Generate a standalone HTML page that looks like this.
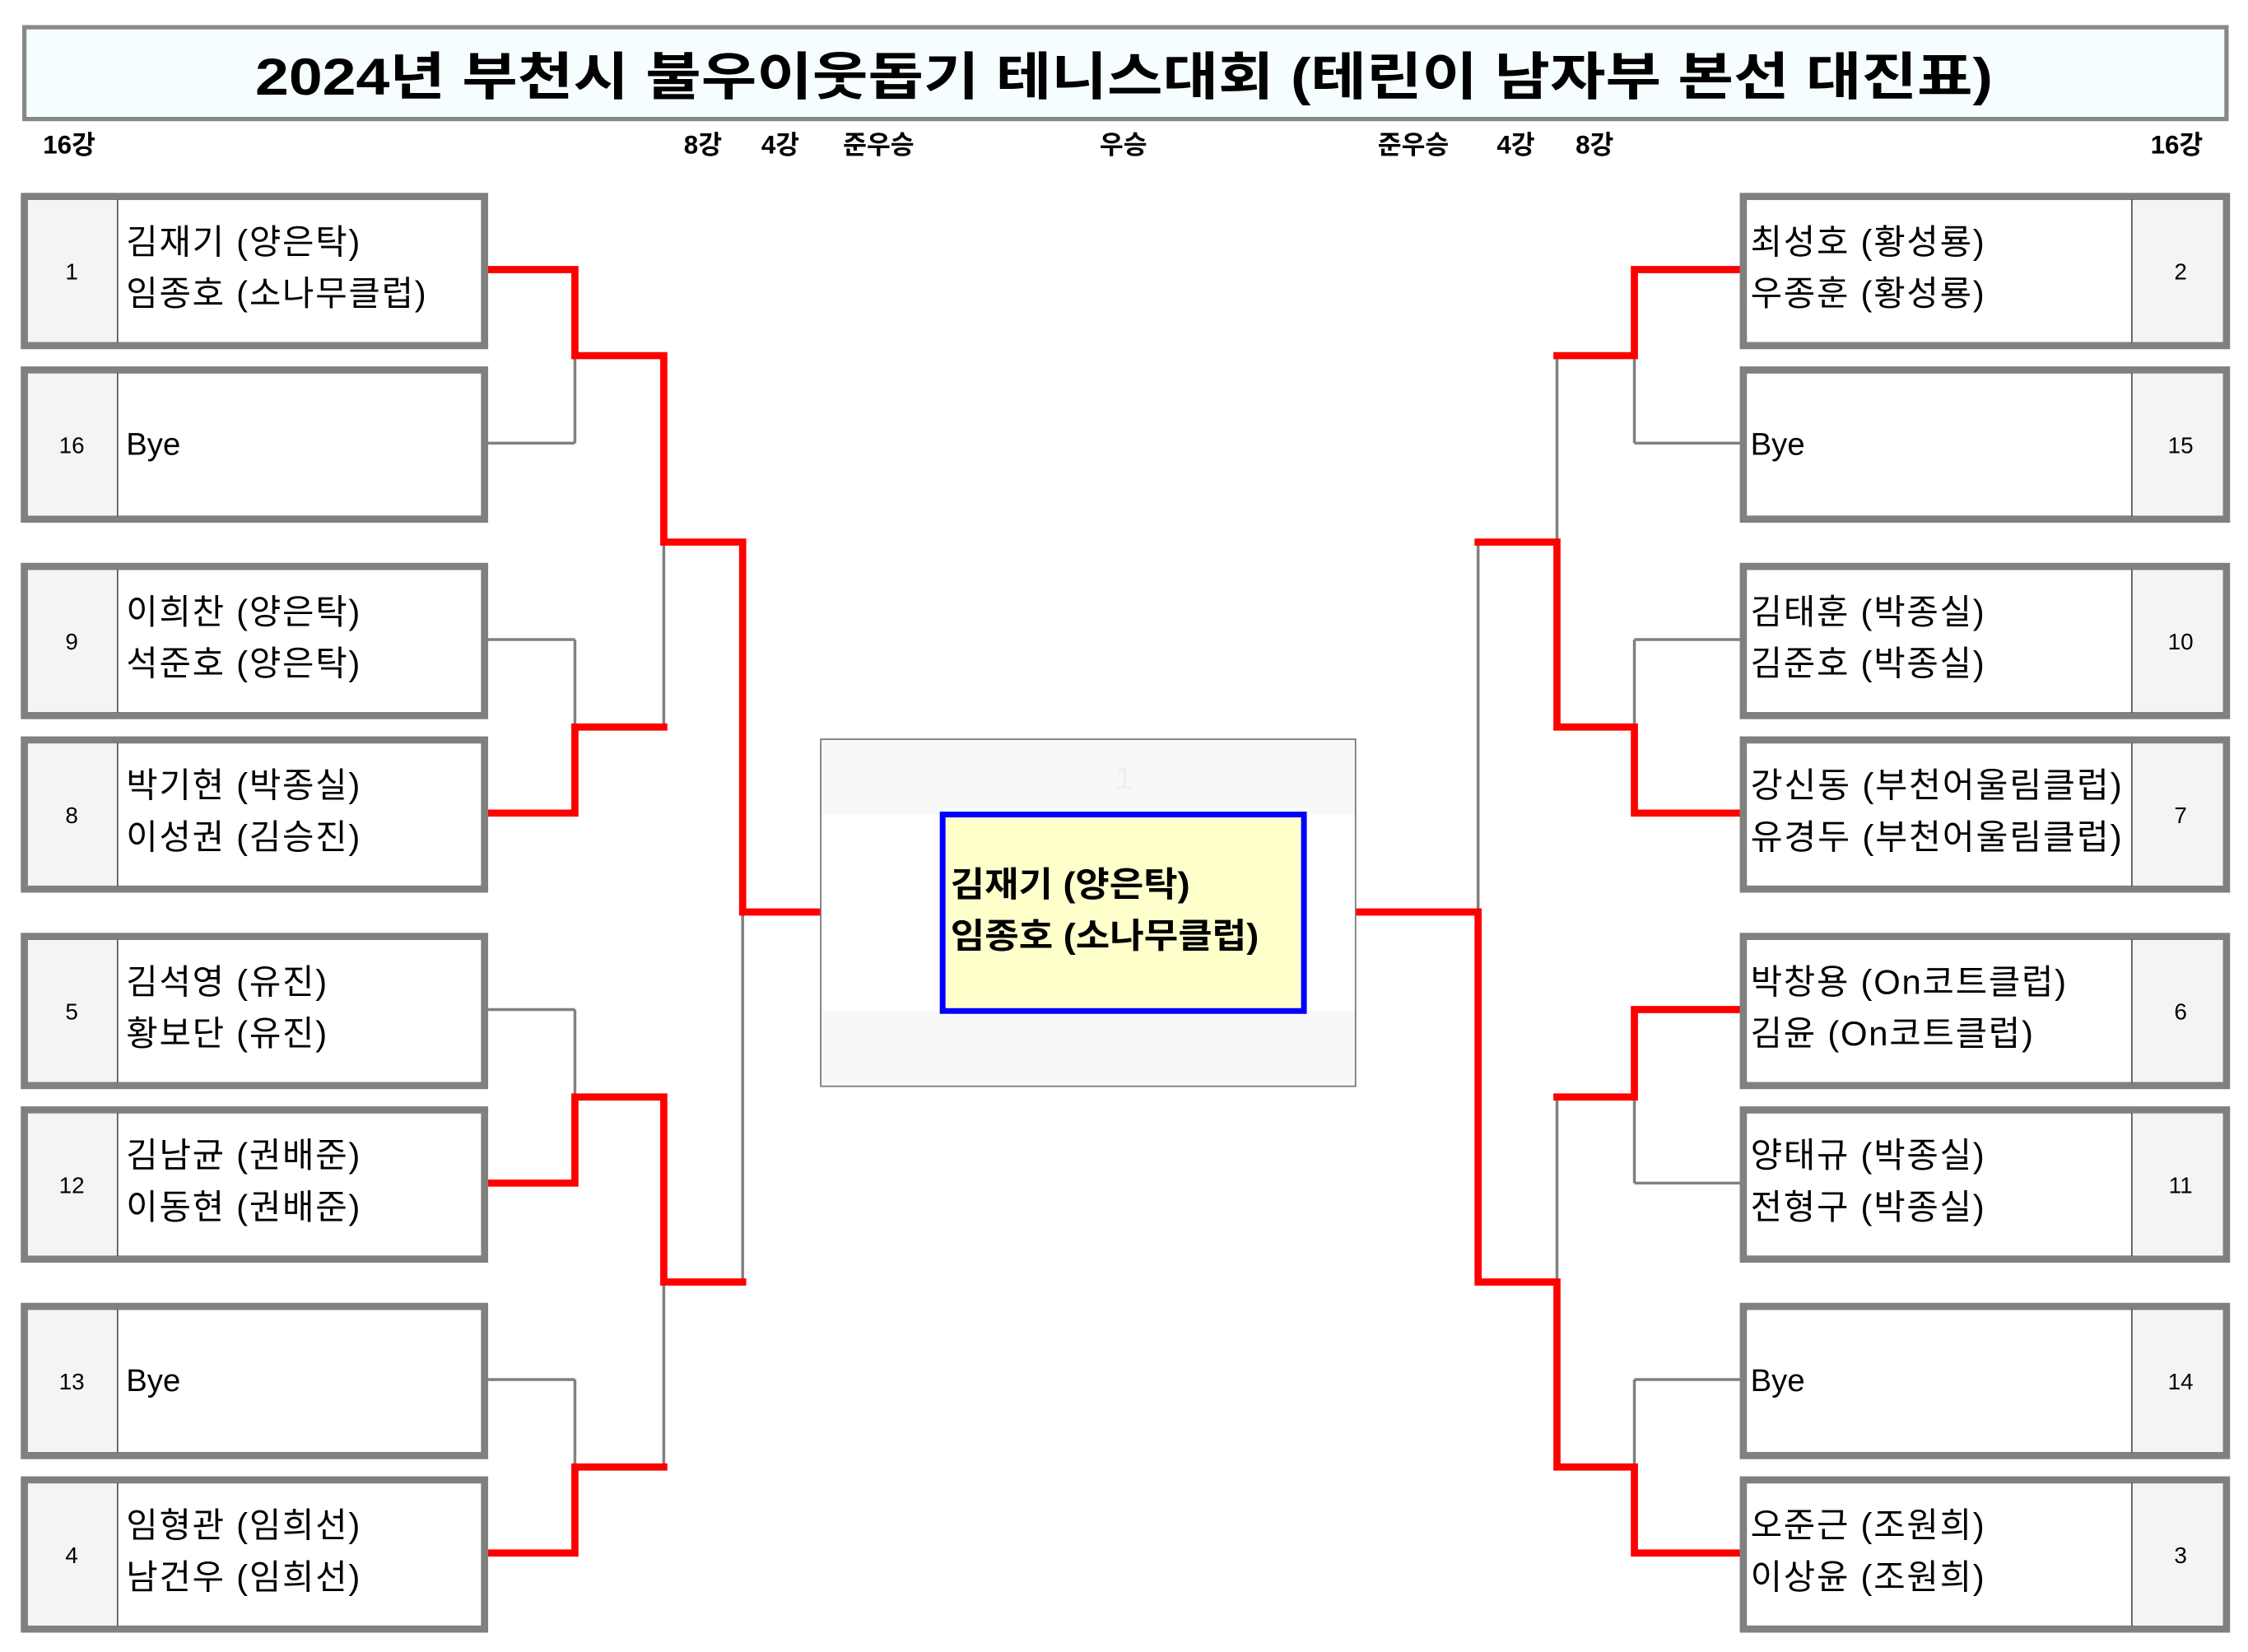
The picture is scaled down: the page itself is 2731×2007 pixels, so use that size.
<!DOCTYPE html>
<html><head><meta charset="utf-8"><style>
html,body{margin:0;padding:0;background:#fff;}
svg{display:block;}
text{font-family:"Liberation Sans","Noto Sans CJK KR",sans-serif;}
.n{font-size:24px;letter-spacing:1px;}
</style></head><body>
<svg width="2731" height="2007" viewBox="0 0 1568 1152" preserveAspectRatio="none" xmlns="http://www.w3.org/2000/svg">
<rect x="0" y="0" width="1568" height="1152" fill="#fff"/>
<rect x="17" y="19" width="1536" height="64" fill="#f5fdff" stroke="#888" stroke-width="3"/>
<text x="178" y="66" font-size="36" font-weight="bold" fill="#000" textLength="1212" lengthAdjust="spacingAndGlyphs">2024년 부천시 불우이웃돕기 테니스대회 (테린이 남자부 본선 대진표)</text>
<g font-size="18" font-weight="bold" fill="#000">
<text x="30" y="107">16강</text>
<text x="477" y="107">8강</text>
<text x="531" y="107">4강</text>
<text x="588" y="107">준우승</text>
<text x="767" y="107">우승</text>
<text x="961" y="107">준우승</text>
<text x="1044" y="107">4강</text>
<text x="1099" y="107">8강</text>
<text x="1500" y="107">16강</text>
</g>

<g stroke="#808080" stroke-width="2" fill="none">
<line x1="340" y1="309" x2="401" y2="309"/>
<line x1="340" y1="446" x2="401" y2="446"/>
<line x1="340" y1="704" x2="401" y2="704"/>
<line x1="340" y1="962" x2="401" y2="962"/>
<line x1="401" y1="188" x2="401" y2="309"/>
<line x1="401" y1="446" x2="401" y2="567"/>
<line x1="401" y1="704" x2="401" y2="825"/>
<line x1="401" y1="962" x2="401" y2="1083"/>
<line x1="463" y1="248" x2="463" y2="507"/>
<line x1="463" y1="765" x2="463" y2="1023"/>
<line x1="518" y1="378" x2="518" y2="894"/>
<line x1="1214" y1="309" x2="1140" y2="309"/>
<line x1="1214" y1="446" x2="1140" y2="446"/>
<line x1="1214" y1="825" x2="1140" y2="825"/>
<line x1="1214" y1="962" x2="1140" y2="962"/>
<line x1="1140" y1="188" x2="1140" y2="309"/>
<line x1="1140" y1="446" x2="1140" y2="567"/>
<line x1="1140" y1="704" x2="1140" y2="825"/>
<line x1="1140" y1="962" x2="1140" y2="1083"/>
<line x1="1086" y1="248" x2="1086" y2="507"/>
<line x1="1086" y1="765" x2="1086" y2="1023"/>
<line x1="1031" y1="378" x2="1031" y2="894"/>
</g>
<g stroke="#ff0000" stroke-width="5" fill="none" stroke-linejoin="miter" stroke-linecap="square">
<polyline points="340,188 401,188 401,248 463,248 463,378 518,378 518,636 572,636"/>
<polyline points="340,567 401,567 401,507 463,507"/>
<polyline points="340,825 401,825 401,765 463,765 463,894 518,894"/>
<polyline points="340,1083 401,1083 401,1023 463,1023"/>
<polyline points="1214,188 1140,188 1140,248 1086,248"/>
<polyline points="1214,567 1140,567 1140,507 1086,507 1086,378 1031,378"/>
<polyline points="1214,704 1140,704 1140,765 1086,765"/>
<polyline points="1214,1083 1140,1083 1140,1023 1086,1023 1086,894 1031,894 1031,636 946,636"/>
</g>

<g font-size="22" fill="#000">
<g transform="translate(0,135)">
<rect x="17" y="2" width="321" height="104" fill="#fff" stroke="#808080" stroke-width="5"/>
<rect x="19.5" y="4.5" width="62.5" height="99" fill="#f4f4f4"/><line x1="82" y1="4" x2="82" y2="104" stroke="#555" stroke-width="1"/>
<text x="50" y="60" font-size="16" text-anchor="middle">1</text>
<text class="n" x="88" y="42">김재기 (양은탁)</text><text class="n" x="88" y="78">임종호 (소나무클럽)</text></g>
<g transform="translate(0,256)">
<rect x="17" y="2" width="321" height="104" fill="#fff" stroke="#808080" stroke-width="5"/>
<rect x="19.5" y="4.5" width="62.5" height="99" fill="#f4f4f4"/><line x1="82" y1="4" x2="82" y2="104" stroke="#555" stroke-width="1"/>
<text x="50" y="60" font-size="16" text-anchor="middle">16</text>
<text x="88" y="61">Bye</text></g>
<g transform="translate(0,393)">
<rect x="17" y="2" width="321" height="104" fill="#fff" stroke="#808080" stroke-width="5"/>
<rect x="19.5" y="4.5" width="62.5" height="99" fill="#f4f4f4"/><line x1="82" y1="4" x2="82" y2="104" stroke="#555" stroke-width="1"/>
<text x="50" y="60" font-size="16" text-anchor="middle">9</text>
<text class="n" x="88" y="42">이희찬 (양은탁)</text><text class="n" x="88" y="78">석준호 (양은탁)</text></g>
<g transform="translate(0,514)">
<rect x="17" y="2" width="321" height="104" fill="#fff" stroke="#808080" stroke-width="5"/>
<rect x="19.5" y="4.5" width="62.5" height="99" fill="#f4f4f4"/><line x1="82" y1="4" x2="82" y2="104" stroke="#555" stroke-width="1"/>
<text x="50" y="60" font-size="16" text-anchor="middle">8</text>
<text class="n" x="88" y="42">박기현 (박종실)</text><text class="n" x="88" y="78">이성권 (김승진)</text></g>
<g transform="translate(0,651)">
<rect x="17" y="2" width="321" height="104" fill="#fff" stroke="#808080" stroke-width="5"/>
<rect x="19.5" y="4.5" width="62.5" height="99" fill="#f4f4f4"/><line x1="82" y1="4" x2="82" y2="104" stroke="#555" stroke-width="1"/>
<text x="50" y="60" font-size="16" text-anchor="middle">5</text>
<text class="n" x="88" y="42">김석영 (유진)</text><text class="n" x="88" y="78">황보단 (유진)</text></g>
<g transform="translate(0,772)">
<rect x="17" y="2" width="321" height="104" fill="#fff" stroke="#808080" stroke-width="5"/>
<rect x="19.5" y="4.5" width="62.5" height="99" fill="#f4f4f4"/><line x1="82" y1="4" x2="82" y2="104" stroke="#555" stroke-width="1"/>
<text x="50" y="60" font-size="16" text-anchor="middle">12</text>
<text class="n" x="88" y="42">김남균 (권배준)</text><text class="n" x="88" y="78">이동현 (권배준)</text></g>
<g transform="translate(0,909)">
<rect x="17" y="2" width="321" height="104" fill="#fff" stroke="#808080" stroke-width="5"/>
<rect x="19.5" y="4.5" width="62.5" height="99" fill="#f4f4f4"/><line x1="82" y1="4" x2="82" y2="104" stroke="#555" stroke-width="1"/>
<text x="50" y="60" font-size="16" text-anchor="middle">13</text>
<text x="88" y="61">Bye</text></g>
<g transform="translate(0,1030)">
<rect x="17" y="2" width="321" height="104" fill="#fff" stroke="#808080" stroke-width="5"/>
<rect x="19.5" y="4.5" width="62.5" height="99" fill="#f4f4f4"/><line x1="82" y1="4" x2="82" y2="104" stroke="#555" stroke-width="1"/>
<text x="50" y="60" font-size="16" text-anchor="middle">4</text>
<text class="n" x="88" y="42">임형관 (임희선)</text><text class="n" x="88" y="78">남건우 (임희선)</text></g>
</g>

<g font-size="22" fill="#000">
<g transform="translate(0,135)">
<rect x="1216" y="2" width="337" height="104" fill="#fff" stroke="#808080" stroke-width="5"/>
<rect x="1487" y="4.5" width="63.5" height="99" fill="#f4f4f4"/><line x1="1487" y1="4" x2="1487" y2="104" stroke="#555" stroke-width="1"/>
<text x="1521" y="60" font-size="16" text-anchor="middle">2</text>
<text class="n" x="1221" y="42">최성호 (황성룡)</text><text class="n" x="1221" y="78">우종훈 (황성룡)</text></g>
<g transform="translate(0,256)">
<rect x="1216" y="2" width="337" height="104" fill="#fff" stroke="#808080" stroke-width="5"/>
<rect x="1487" y="4.5" width="63.5" height="99" fill="#f4f4f4"/><line x1="1487" y1="4" x2="1487" y2="104" stroke="#555" stroke-width="1"/>
<text x="1521" y="60" font-size="16" text-anchor="middle">15</text>
<text x="1221" y="61">Bye</text></g>
<g transform="translate(0,393)">
<rect x="1216" y="2" width="337" height="104" fill="#fff" stroke="#808080" stroke-width="5"/>
<rect x="1487" y="4.5" width="63.5" height="99" fill="#f4f4f4"/><line x1="1487" y1="4" x2="1487" y2="104" stroke="#555" stroke-width="1"/>
<text x="1521" y="60" font-size="16" text-anchor="middle">10</text>
<text class="n" x="1221" y="42">김태훈 (박종실)</text><text class="n" x="1221" y="78">김준호 (박종실)</text></g>
<g transform="translate(0,514)">
<rect x="1216" y="2" width="337" height="104" fill="#fff" stroke="#808080" stroke-width="5"/>
<rect x="1487" y="4.5" width="63.5" height="99" fill="#f4f4f4"/><line x1="1487" y1="4" x2="1487" y2="104" stroke="#555" stroke-width="1"/>
<text x="1521" y="60" font-size="16" text-anchor="middle">7</text>
<text class="n" x="1221" y="42" textLength="260" lengthAdjust="spacingAndGlyphs">강신동 (부천어울림클럽)</text><text class="n" x="1221" y="78" textLength="260" lengthAdjust="spacingAndGlyphs">유경두 (부천어울림클럽)</text></g>
<g transform="translate(0,651)">
<rect x="1216" y="2" width="337" height="104" fill="#fff" stroke="#808080" stroke-width="5"/>
<rect x="1487" y="4.5" width="63.5" height="99" fill="#f4f4f4"/><line x1="1487" y1="4" x2="1487" y2="104" stroke="#555" stroke-width="1"/>
<text x="1521" y="60" font-size="16" text-anchor="middle">6</text>
<text class="n" x="1221" y="42">박창용 (On코트클럽)</text><text class="n" x="1221" y="78">김윤 (On코트클럽)</text></g>
<g transform="translate(0,772)">
<rect x="1216" y="2" width="337" height="104" fill="#fff" stroke="#808080" stroke-width="5"/>
<rect x="1487" y="4.5" width="63.5" height="99" fill="#f4f4f4"/><line x1="1487" y1="4" x2="1487" y2="104" stroke="#555" stroke-width="1"/>
<text x="1521" y="60" font-size="16" text-anchor="middle">11</text>
<text class="n" x="1221" y="42">양태규 (박종실)</text><text class="n" x="1221" y="78">전형구 (박종실)</text></g>
<g transform="translate(0,909)">
<rect x="1216" y="2" width="337" height="104" fill="#fff" stroke="#808080" stroke-width="5"/>
<rect x="1487" y="4.5" width="63.5" height="99" fill="#f4f4f4"/><line x1="1487" y1="4" x2="1487" y2="104" stroke="#555" stroke-width="1"/>
<text x="1521" y="60" font-size="16" text-anchor="middle">14</text>
<text x="1221" y="61">Bye</text></g>
<g transform="translate(0,1030)">
<rect x="1216" y="2" width="337" height="104" fill="#fff" stroke="#808080" stroke-width="5"/>
<rect x="1487" y="4.5" width="63.5" height="99" fill="#f4f4f4"/><line x1="1487" y1="4" x2="1487" y2="104" stroke="#555" stroke-width="1"/>
<text x="1521" y="60" font-size="16" text-anchor="middle">3</text>
<text class="n" x="1221" y="42">오준근 (조원희)</text><text class="n" x="1221" y="78">이상윤 (조원희)</text></g>
</g>

<rect x="572.5" y="515.5" width="373" height="242" fill="#f8f8f8" stroke="#777" stroke-width="1"/>
<rect x="573" y="568" width="372" height="137" fill="#fff"/>
<text x="784" y="550" font-size="22" text-anchor="middle" fill="#eeeeee">1</text>
<rect x="657.5" y="568" width="252" height="137" fill="#ffffcc" stroke="#0000ff" stroke-width="4"/>
<text x="663" y="625" font-size="24" font-weight="bold" fill="#000" textLength="167" lengthAdjust="spacingAndGlyphs">김재기 (양은탁)</text>
<text x="663" y="661" font-size="24" font-weight="bold" fill="#000" textLength="215" lengthAdjust="spacingAndGlyphs">임종호 (소나무클럽)</text>
</svg>
</body></html>
